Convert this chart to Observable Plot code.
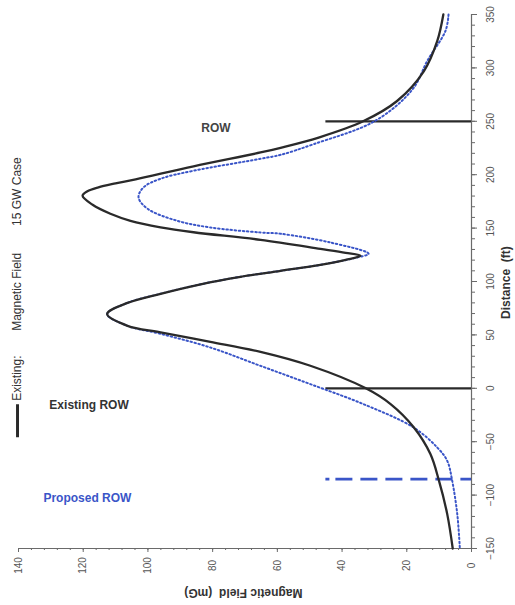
<!DOCTYPE html>
<html><head><meta charset="utf-8">
<script src="https://cdn.jsdelivr.net/npm/d3@7"></script>
<script src="https://cdn.jsdelivr.net/npm/@observablehq/plot@0.6"></script>
<style>
html,body{margin:0;padding:0;background:#fff;}
#chart svg{display:block;}
</style></head><body><div id="chart"></div>
<script>
// Distance (ft) and magnetic field (mG)
const existingDist  = [350, 325, 297, 269, 250, 235, 225.2, 220.8, 207.9, 195.7, 191.9, 188.2, 184.5, 180.2, 171.8, 163.4, 156.8, 150.7, 146.1, 139, 130.6, 126.9, 124.1, 120.3, 115.6, 110, 104.4, 97.4, 88.5, 80, 69.5, 58.5, 52.4, 43.5, 34.1, 21.1, 0.2, -14.8, -36.7, -61.6, -86, -117.8, -150];
const existingField = [8.7, 10.6, 14.7, 23, 33.5, 47, 59, 65.2, 85.9, 103.8, 110, 115.3, 118.7, 120.2, 117.1, 111.6, 105.4, 96.1, 85.9, 65.2, 46.7, 38.9, 34.3, 38.9, 46.7, 59, 71.4, 83.7, 96.1, 106.3, 112.6, 106.3, 96.1, 80.7, 65.2, 49.8, 32.8, 25, 17.8, 12.7, 10.1, 7.5, 5.8];
const proposedDist  = [350, 335, 307, 280, 250.5, 228.6, 218.6, 214.9, 203.7, 196.2, 188, 178.7, 168.1, 156.8, 150.6, 145.9, 144.7, 136.5, 126, 122.2, 115.6, 110, 104.4, 97.4, 88.5, 80, 69.5, 58.5, 51, 38.2, 21, 3.9, -14.8, -36.7, -55.4, -67.9, -86, -117.8, -150];
const proposedField = [7.1, 8.0, 13.6, 18.2, 29.7, 48.8, 59, 65.2, 85.9, 96.1, 101.4, 102.9, 100.1, 90.9, 80.7, 65.2, 59, 43.6, 31.8, 35.8, 46.7, 59, 71.4, 83.7, 96.1, 106.3, 112.6, 106.3, 96.1, 80.7, 65.2, 49.8, 33.4, 17.9, 10.6, 7.5, 6, 4.4, 3.6];
const rowDistances = [250, 0];       // solid ROW edges
const proposedRowDistances = [-85];  // dashed proposed ROW edge
const rowFieldExtent = 45;
const distTicks  = [-150, -100, -50, 0, 50, 100, 150, 200, 250, 300, 350];
const distMinor  = [-150,-140,-130,-120,-110,-100,-90,-80,-70,-60,-50,-40,-30,-20,-10,0,10,20,30,40,50,60,70,80,90,100,110,120,130,140,150,160,170,180,190,200,210,220,230,240,250,260,270,280,290,300,310,320,330,340,350];
const fieldTicks = [0, 20, 40, 60, 80, 100, 120, 140];
const fieldMinor = [0,4,8,12,16,20,24,28,32,36,40,44,48,52,56,60,64,68,72,76,80,84,88,92,96,100,104,108,112,116,120,124,128,132,136,140];
const labels = {row: "ROW", existingRow: "Existing ROW", proposedRow: "Proposed ROW"};
const legendTexts = ["Existing:", "Magnetic Field", "15 GW Case"];
const xTitle = "Magnetic Field  (mG)";
const yTitle = "Distance  (ft)";

const existing = existingDist.map((d, i) => ({d, f: existingField[i]}));
const proposed = proposedDist.map((d, i) => ({d, f: proposedField[i]}));

const dark = "#2a2a2a", blue = "#3a55c8", axisGray = "#6a6a6a", tickText = "#555";

const chart = Plot.plot({
  width: 515, height: 605,
  marginLeft: 18, marginRight: 44, marginTop: 14, marginBottom: 57,
  x: {domain: [140, 0]},
  y: {domain: [-150, 350]},
  style: {fontFamily: "'Liberation Sans', Arial, sans-serif", background: "#fff", overflow: "visible"},
  marks: [
    // axes
    Plot.axisY({anchor: "right", label: null, ticks: distMinor, tickSize: 3, tickFormat: () => "", stroke: axisGray}),
    Plot.axisY({anchor: "right", label: null, ticks: distTicks, tickSize: 5, tickRotate: -90, tickPadding: 14,
      textAnchor: "middle", lineAnchor: "middle", fontSize: 10, fill: tickText, stroke: axisGray}),
    Plot.axisX({anchor: "bottom", label: null, ticks: fieldMinor, tickSize: 2, tickFormat: () => "", stroke: axisGray}),
    Plot.axisX({anchor: "bottom", label: null, ticks: fieldTicks, tickSize: 4, tickRotate: -90, tickPadding: 13,
      textAnchor: "middle", lineAnchor: "middle", fontSize: 10, fill: tickText, stroke: axisGray}),
    Plot.ruleX([0], {y1: -150, y2: 350, stroke: axisGray, strokeWidth: 1.2}),
    Plot.ruleY([-150], {x1: 140, x2: 0, stroke: axisGray, strokeWidth: 1.2}),
    // ROW lines
    Plot.ruleY(rowDistances, {x1: rowFieldExtent, x2: 0, stroke: dark, strokeWidth: 2.2}),
    Plot.ruleY(proposedRowDistances, {x1: rowFieldExtent, x2: 0, stroke: blue, strokeWidth: 2.6, strokeDasharray: "4,6,17,8,17,8,17,8,17,8,17,8,20"}),
    // curves
    Plot.line(proposed, {x: "f", y: "d", stroke: blue, strokeWidth: 2, strokeDasharray: "1.5,2.6", curve: "catmull-rom"}),
    Plot.line(existing, {x: "f", y: "d", stroke: dark, strokeWidth: 2.3, curve: "catmull-rom"}),
    // annotations
    Plot.text([labels.row], {x: 79, y: 244, text: d => d, fontSize: 12, fontWeight: "bold", fill: "#444"}),
    Plot.text([labels.existingRow], {x: 118.2, y: -15.4, text: d => d, fontSize: 12, fontWeight: "bold", fill: "#333"}),
    Plot.text([labels.proposedRow], {x: 118.7, y: -102.5, text: d => d, fontSize: 12, fontWeight: "bold", fill: blue}),
    // legend
    Plot.ruleX([140.3], {y1: -15.4, y2: -46.3, stroke: dark, strokeWidth: 3}),
    Plot.text([legendTexts[0]], {x: 140.3, y: -11.7, text: d => d, rotate: -90, textAnchor: "start", lineAnchor: "middle", fontSize: 12, fill: "#333"}),
    Plot.text([legendTexts[1]], {x: 140.3, y: 53.8, text: d => d, rotate: -90, textAnchor: "start", lineAnchor: "middle", fontSize: 12, fill: "#333"}),
    Plot.text([legendTexts[2]], {x: 140.3, y: 152, text: d => d, rotate: -90, textAnchor: "start", lineAnchor: "middle", fontSize: 12, fill: "#333"}),
    // axis titles
    Plot.text([yTitle], {x: -10.8, y: 99, text: d => d, rotate: -90, fontSize: 12, fontWeight: "bold", fill: "#333"}),
    Plot.text([xTitle], {x: 70.5, y: -191.5, text: d => d, rotate: 180, fontSize: 12, fontWeight: "bold", fill: "#333"})
  ]
});
document.getElementById("chart").appendChild(chart);
</script>
</body></html>
